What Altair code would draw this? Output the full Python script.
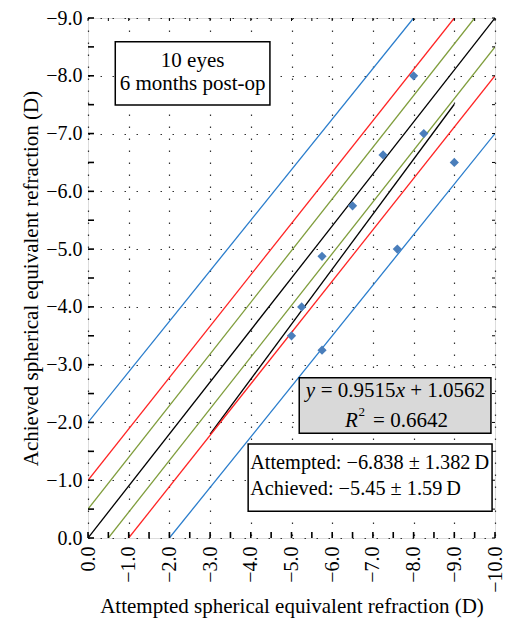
import altair as alt
import pandas as pd

# Data (attempted, achieved) spherical equivalent refraction (D)
attempted = [-8.0, -8.25, -7.25, -9.0, -6.5, -7.6, -5.75, -5.25, -5.0, -5.75]
achieved = [-8.0, -7.0, -6.63, -6.5, -5.75, -5.0, -4.875, -4.0, -3.5, -3.25]

# Reference (accuracy) lines as drawn: offsets in D and colours
ref_offsets = [0.0, 0.5, 1.0, 2.0]
ref_colors = ["#000000", "#7f9d3c", "#ff2424", "#2a7dcc"]

# Regression
slope = 0.9515
intercept = 1.0562
reg_x = [-3.0, -9.0]

x_ticks = [0, -1, -2, -3, -4, -5, -6, -7, -8, -9, -10]
y_ticks = [0, -1, -2, -3, -4, -5, -6, -7, -8, -9]
X_MAX, Y_MAX = -10.0, -9.0

W, H = 407, 520
FONT = "Liberation Serif"

xs = alt.Scale(domain=[0, X_MAX], nice=False, zero=False)
ys = alt.Scale(domain=[0, Y_MAX], nice=False, zero=False)

# reference line table (upper: from (0,-c) to (-(10-c),-9); lower: from (-c,0) to (-10,-(9-c)))
rows = []
k = 0
for o, c in zip(ref_offsets, ref_colors):
    rows += [{"id": k, "x": 0.0, "y": -o, "c": c}, {"id": k, "x": X_MAX + o, "y": Y_MAX, "c": c}]
    k += 1
    if o > 0:
        rows += [{"id": k, "x": -o, "y": 0.0, "c": c}, {"id": k, "x": X_MAX, "y": Y_MAX + o, "c": c}]
        k += 1
ref_df = pd.DataFrame(rows)

axis_common = dict(grid=True, gridDash=[1.5, 10.5], gridColor="#333", gridWidth=1.2,
                   ticks=False, domain=False, format=".1f",
                   labelFont=FONT, labelFontSize=20, labelColor="#000",
                   titleFont=FONT, titleFontSize=21, titleFontWeight="normal", titleColor="#000")

ref_lines = alt.Chart(ref_df).mark_line(strokeWidth=1.3, clip=True).encode(
    x=alt.X("x:Q", scale=xs,
            axis=alt.Axis(values=x_ticks, labelAngle=270, labelPadding=8, titlePadding=3,
                          title="Attempted spherical equivalent refraction (D)", **axis_common)),
    y=alt.Y("y:Q", scale=ys,
            axis=alt.Axis(values=y_ticks, labelPadding=6, titlePadding=4,
                          title="Achieved spherical equivalent refraction (D)", **axis_common)),
    color=alt.Color("c:N", scale=None),
    detail="id:N",
)

reg_df = pd.DataFrame({"x": reg_x, "y": [slope * v + intercept for v in reg_x]})
reg_line = alt.Chart(reg_df).mark_line(color="#000", strokeWidth=1.3).encode(
    x=alt.X("x:Q", scale=xs), y=alt.Y("y:Q", scale=ys))

pts_df = pd.DataFrame({"x": attempted, "y": achieved})
points = alt.Chart(pts_df).mark_point(shape="diamond", filled=True, size=85,
                                      color="#4a7ebb", opacity=1).encode(
    x=alt.X("x:Q", scale=xs), y=alt.Y("y:Q", scale=ys))

# inward ticks every 0.5 D
xt = [-v * 0.5 for v in range(0, 21)]
yt = [-v * 0.5 for v in range(0, 19)]
xtick_df = pd.DataFrame({"x": xt})
ytick_df = pd.DataFrame({"y": yt})

xticks_b = alt.Chart(xtick_df).mark_rule(color="#000", strokeWidth=1.6).encode(
    x=alt.X("x:Q", scale=xs), y=alt.value(H), y2=alt.value(H - 6))
xticks_t = alt.Chart(xtick_df).mark_rule(color="#000", strokeWidth=1).encode(
    x=alt.X("x:Q", scale=xs), y=alt.value(0), y2=alt.value(3))
yticks_l = alt.Chart(ytick_df).mark_rule(color="#000", strokeWidth=1.6).encode(
    y=alt.Y("y:Q", scale=ys), x=alt.value(0), x2=alt.value(6))
yticks_r = alt.Chart(ytick_df).mark_rule(color="#000", strokeWidth=1).encode(
    y=alt.Y("y:Q", scale=ys), x=alt.value(W), x2=alt.value(W - 3))


def rect(x1, x2, y1, y2, fill):
    d = pd.DataFrame({"x": [x1], "x2": [x2], "y": [y1], "y2": [y2]})
    return alt.Chart(d).mark_rect(fill=fill, stroke="black", strokeWidth=1.5).encode(
        x=alt.X("x:Q", scale=xs), x2="x2:Q", y=alt.Y("y:Q", scale=ys), y2="y2:Q")


def piece(t, x, y, dx=0, dy=0, size=21, style="normal", align="left"):
    return alt.Chart(pd.DataFrame({"t": [t], "x": [x], "y": [y]})).mark_text(
        font=FONT, fontSize=size, fontStyle=style, color="#000", align=align,
        baseline="middle", dx=dx, dy=dy
    ).encode(x=alt.X("x:Q", scale=xs), y=alt.Y("y:Q", scale=ys), text="t:N")


# Annotation 1
box1 = rect(-0.67, -4.47, -8.59, -7.495, "white")
box1_lines = ["10 eyes", "6 months post-op"]
box1_text = [piece(box1_lines[0], -2.57, -8.26, align="center"),
             piece(box1_lines[1], -2.57, -7.86, align="center")]

# Regression box
box2 = rect(-5.19, -9.90, -2.772, -1.814, "#d9d9d9")
eq_x, eq_y = -5.35, -2.55
eq_layers = [
    piece("y", eq_x, eq_y, dx=0, style="italic"),
    piece("= 0.9515", eq_x, eq_y, dx=15),
    piece("x", eq_x, eq_y, dx=90, style="italic"),
    piece("+ 1.0562", eq_x, eq_y, dx=104.5),
]
r_x, r_y = -6.316, -2.019
eq_layers += [
    piece("R", r_x, r_y, dx=0, style="italic"),
    piece("2", r_x, r_y, dx=13.5, dy=-9, size=13),
    piece("= 0.6642", r_x, r_y, dx=28),
]

# Stats box
box3 = rect(-3.935, -9.928, -1.626, -0.462, "white")
stats_text = [piece("Attempted: \u22126.838 \u00b1 1.382\u2009D", -3.985, -1.30, size=20.3),
              piece("Achieved: \u22125.45 \u00b1 1.59\u2009D", -3.985, -0.85, size=20.3)]

chart = alt.layer(
    reg_line, ref_lines, points,
    box1, *box1_text, box2, *eq_layers, box3, *stats_text,
    xticks_b, xticks_t, yticks_l, yticks_r,
).properties(
    width=W, height=H,
    autosize=alt.AutoSizeParams(type="none"),
    padding={"left": 80, "top": 10, "right": 11, "bottom": 81},
).configure_view(stroke="#000", strokeWidth=2).configure(background="white")

chart.save("out.html", embed_options={"renderer": "svg", "actions": False})
